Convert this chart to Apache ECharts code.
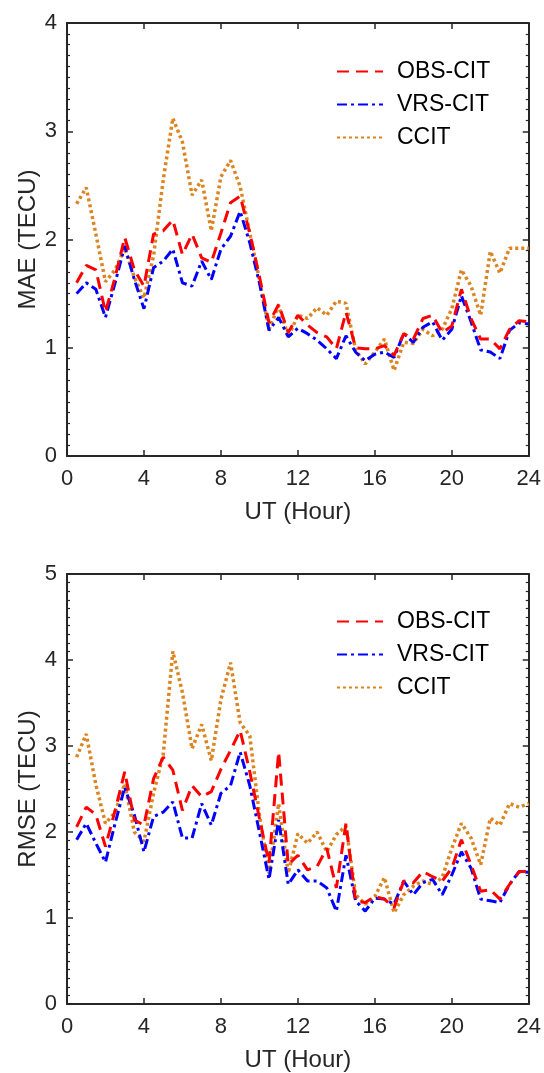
<!DOCTYPE html>
<html>
<head>
<meta charset="utf-8">
<script src="https://cdn.jsdelivr.net/npm/echarts@6/dist/echarts.min.js"></script>
<style>html,body{margin:0;padding:0;background:#fff}#c{width:544px;height:1073px}</style>
</head>
<body>
<div id="c"></div>
<script>
const hours = [0.5,1,1.5,2,2.5,3,3.5,4,4.5,5,5.5,6,6.5,7,7.5,8,8.5,9,9.5,10,10.5,11,11.5,12,12.5,13,13.5,14,14.5,15,15.5,16,16.5,17,17.5,18,18.5,19,19.5,20,20.5,21,21.5,22,22.5,23,23.5,24];
const seriesNames = ['OBS-CIT','VRS-CIT','CCIT'];
const xTicks = [0,4,8,12,16,20,24];

const obsMae = [1.60,1.76,1.72,1.33,1.65,2.02,1.72,1.57,2.05,2.08,2.18,1.86,2.05,1.83,1.79,2.06,2.34,2.40,2.06,1.66,1.23,1.40,1.14,1.30,1.21,1.14,1.10,0.99,1.33,1.00,0.99,0.99,1.02,0.93,1.13,1.08,1.27,1.30,1.14,1.20,1.54,1.27,1.08,1.08,0.99,1.17,1.25,1.24];
const vrsMae = [1.50,1.60,1.54,1.28,1.60,1.94,1.63,1.36,1.74,1.80,1.91,1.60,1.57,1.80,1.63,1.91,2.03,2.26,1.97,1.60,1.16,1.28,1.10,1.18,1.13,1.07,0.99,0.90,1.11,0.96,0.88,0.94,0.96,0.91,1.13,1.05,1.19,1.24,1.07,1.17,1.48,1.24,0.98,0.96,0.90,1.16,1.23,1.22];
const ccitMae = [2.33,2.48,2.05,1.61,1.72,1.92,1.65,1.46,1.85,2.55,3.12,2.90,2.41,2.55,2.08,2.58,2.73,2.49,2.06,1.63,1.17,1.39,1.10,1.30,1.27,1.37,1.30,1.43,1.41,0.98,0.85,0.96,1.08,0.79,1.05,1.04,1.17,1.11,1.17,1.36,1.72,1.57,1.30,1.89,1.69,1.92,1.92,1.92];

const obsRmse = [2.06,2.29,2.20,1.83,2.25,2.70,2.14,2.08,2.62,2.87,2.72,2.25,2.54,2.41,2.47,2.73,2.95,3.18,2.70,2.16,1.64,2.93,1.62,1.73,1.56,1.60,1.81,1.35,2.10,1.20,1.18,1.25,1.22,1.12,1.43,1.41,1.54,1.48,1.43,1.58,1.91,1.62,1.31,1.33,1.22,1.39,1.54,1.54];
const vrsRmse = [1.91,2.10,1.87,1.65,2.10,2.52,2.20,1.77,2.18,2.23,2.35,1.93,1.93,2.33,2.08,2.45,2.54,2.93,2.54,2.00,1.45,2.14,1.39,1.56,1.43,1.43,1.35,1.08,1.73,1.20,1.08,1.23,1.22,1.16,1.43,1.27,1.41,1.45,1.27,1.50,1.77,1.58,1.22,1.20,1.18,1.39,1.54,1.53];
const ccitRmse = [2.87,3.14,2.55,2.10,2.23,2.56,2.00,1.89,2.45,2.90,4.10,3.62,2.97,3.25,2.83,3.54,3.97,3.27,3.12,2.20,1.52,2.33,1.52,1.98,1.87,2.00,1.77,1.97,2.07,1.27,1.16,1.25,1.47,1.06,1.27,1.37,1.43,1.39,1.47,1.81,2.10,1.93,1.62,2.16,2.08,2.33,2.29,2.33];

const FONT = "'Liberation Sans', Arial, Helvetica, sans-serif";
const AX = '#262626';
const styles = [
  {color:'#FF0000', type:[12,7], width:3},
  {color:'#0000FF', type:[10,4,3,4], width:3},
  {color:'#DB8420', type:[3,3], width:3.5}
];

function pairs(vals){ return hours.map((h,i)=>[h, vals[i]]); }

const grids = [
  {left:67, top:23, width:462, height:433},
  {left:67, top:574, width:462, height:433}
];

function xAxes(gi){
  return [
    {gridIndex:gi, type:'value', min:0, max:24, interval:4, position:'bottom',
     name:'UT (Hour)', nameLocation:'middle', nameGap:44, nameMoveOverlap:false,
     nameTextStyle:{fontFamily:FONT, fontSize:24, color:AX},
     axisLine:{show:true, onZero:false, lineStyle:{color:AX, width:2}},
     axisTick:{show:true, inside:true, length:6, lineStyle:{color:AX, width:1.5}},
     axisLabel:{fontFamily:FONT, fontSize:22, color:AX, margin:12},
     splitLine:{show:false}},
    {gridIndex:gi, type:'value', min:0, max:24, interval:4, position:'top',
     axisLine:{show:true, onZero:false, lineStyle:{color:AX, width:2}},
     axisTick:{show:true, inside:true, length:6, lineStyle:{color:AX, width:1.5}},
     axisLabel:{show:false}, splitLine:{show:false}}
  ];
}
function yAxes(gi, max, name){
  const common = {gridIndex:gi, type:'value', min:0, max:max, interval:1,
     axisLine:{show:true, onZero:false, lineStyle:{color:AX, width:2}},
     axisTick:{show:true, inside:true, length:6, lineStyle:{color:AX, width:1.5}},
     minorTick:{show:true, splitNumber:10, length:3, lineStyle:{color:AX, width:1.2}},
     splitLine:{show:false}, minorSplitLine:{show:false}};
  return [
    Object.assign({}, common, {position:'left', name:name, nameLocation:'middle', nameGap:27, nameMoveOverlap:false,
      nameTextStyle:{fontFamily:FONT, fontSize:24, color:AX},
      axisLabel:{fontFamily:FONT, fontSize:22, color:AX, margin:10}}),
    Object.assign({}, common, {position:'right', axisLabel:{show:false}})
  ];
}

const xAxis = xAxes(0).concat(xAxes(1));
const yAxis = yAxes(0, 4, 'MAE (TECU)').concat(yAxes(1, 5, 'RMSE (TECU)'));

const panelData = [[obsMae, vrsMae, ccitMae],[obsRmse, vrsRmse, ccitRmse]];
const series = [];
panelData.forEach((set, p)=>{
  set.forEach((vals, k)=>{
    series.push({
      name: seriesNames[k], type:'line', xAxisIndex:p*2, yAxisIndex:p*2,
      data: pairs(vals), symbol:'none', showSymbol:false, animation:false,
      lineStyle:{color:styles[k].color, type:styles[k].type, width:styles[k].width},
      itemStyle:{color:styles[k].color}, z: 3 - k
    });
  });
});

function legend(top){
  return {orient:'vertical', left:336, top:top, padding:0, itemWidth:46, itemHeight:20, itemGap:10,
    data:seriesNames, selectedMode:false,
    itemStyle:{opacity:0, color:'rgba(0,0,0,0)', borderWidth:0},
    textStyle:{fontFamily:FONT, fontSize:23, color:'#000', lineHeight:20, padding:[0,0,0,9]}};
}

const chart = echarts.init(document.getElementById('c'), null, {renderer:'canvas'});
chart.setOption({
  backgroundColor:'#fff', animation:false,
  grid: grids, xAxis: xAxis, yAxis: yAxis, series: series,
  legend: [legend(60), legend(610)]
});
</script>
</body>
</html>
